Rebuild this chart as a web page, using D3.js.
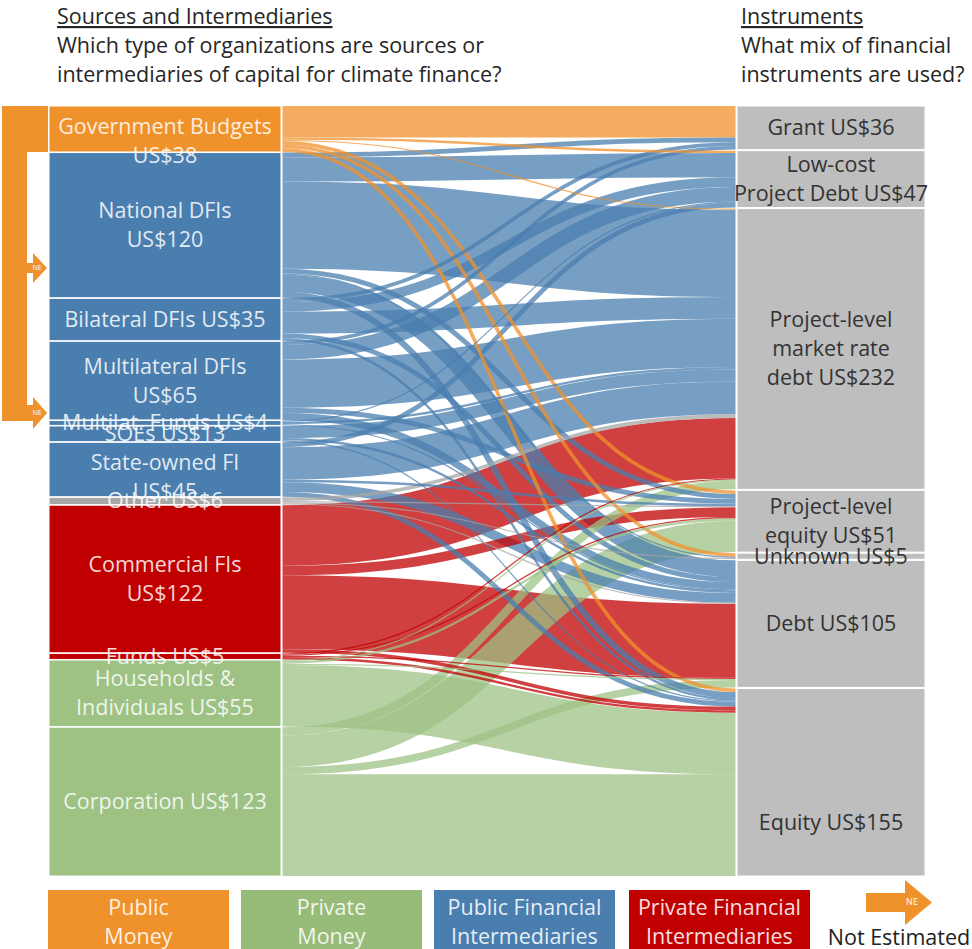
<!DOCTYPE html>
<html><head><meta charset="utf-8">
<script src="https://cdn.jsdelivr.net/npm/d3@7"></script>
<style>
body{margin:0;background:#fff}
svg{display:block}
text{font-family:"Open Sans","Noto Sans",sans-serif}
</style>
</head><body>
<svg id="c" width="972" height="949"></svg>
<script>
// ---------- DATA ----------
const sources = ["Government Budgets","National DFIs","Bilateral DFIs","Multilateral DFIs","Multilat. Funds","SOEs","State-owned FI","Other","Commercial FIs","Funds","Households & Individuals","Corporation"];
const sourceValues = [38,120,35,65,4,13,45,6,122,5,55,123];
const sourceGroups = ["public","pubfi","pubfi","pubfi","pubfi","pubfi","pubfi","other","privfi","privfi","private","private"];
const sourceLabels = [["Government Budgets","US$38"],["National DFIs","US$120"],["Bilateral DFIs US$35"],["Multilateral DFIs","US$65"],["Multilat. Funds US$4"],["SOEs US$13"],["State-owned FI","US$45"],["Other US$6"],["Commercial FIs","US$122"],["Funds US$5"],["Households &","Individuals US$55"],["Corporation US$123"]];
const instruments = ["Grant","Low-cost Project Debt","Project-level market rate debt","Project-level equity","Unknown","Debt","Equity"];
const instrumentValues = [36,47,232,51,5,105,155];
const instrumentLabels = [["Grant US$36"],["Low-cost","Project Debt US$47"],["Project-level","market rate","debt US$232"],["Project-level","equity US$51"],["Unknown US$5"],["Debt US$105"],["Equity US$155"]];
// flows: rows = sources, columns = instruments
const flows = [
  [26, 2, 1, 3, 3, 0, 3],
  [ 4,20,72, 4, 1,14, 5],
  [ 3, 8,18, 0, 0, 4, 2],
  [ 3,12,40, 4, 0, 6, 0],
  [ 0, 1, 2, 0, 0, 1, 0],
  [ 0, 0,10, 0, 0, 2, 1],
  [ 0, 4,27, 2, 0, 8, 4],
  [ 0, 0, 3, 1, 1, 1, 0],
  [ 0, 0,50, 8, 0,61, 3],
  [ 0, 0, 1, 1, 0, 1, 2],
  [ 0, 0, 1, 2, 0, 1,51],
  [ 0, 0, 7,26, 0, 6,84]
];
const legendItems = [["Public","Money"],["Private","Money"],["Public Financial","Intermediaries"],["Private Financial","Intermediaries"]];
const legendGroups = ["public","private","pubfi","privfi"];
const titleLeft = ["Sources and Intermediaries","Which type of organizations are sources or","intermediaries of capital for climate finance?"];
const titleRight = ["Instruments","What mix of financial","instruments are used?"];

// ---------- STYLE ----------
const colors = {public:"#F0922B", private:"#9DC284", pubfi:"#4A7EAF", privfi:"#C00000", other:"#A6A6A6"};
const legendColors = {public:"#F0922B", private:"#97BB78", pubfi:"#4A7EAF", privfi:"#C00000"};
const instColor = "#BEBEBE";
const labelShiftRight = {6: 40};
const FS = 21.5, LH = 29;

const svg = d3.select("#c");
const topY = 106, botY = 876;
const lx0 = 49, lx1 = 281, rx0 = 737, rx1 = 925;
const linkX0 = 282.5, linkX1 = 735.5;
const total = d3.sum(sourceValues);
const gapL = 0.6;
const ky = (botY - topY - (sources.length - 1) * gapL) / total;
const yv = d3.scaleLinear().domain([0, total]).range([0, total * ky]);
const gapR = (botY - topY - yv(d3.sum(instrumentValues))) / (instruments.length - 1);

// node positions
const lNodes = [];
let acc = topY;
sourceValues.forEach((v, i) => { lNodes.push({i, y0: acc, y1: acc + yv(v)}); acc += yv(v) + gapL; });
const rNodes = [];
acc = topY;
instrumentValues.forEach((v, j) => { rNodes.push({j, y0: acc, y1: acc + yv(v)}); acc += yv(v) + gapR; });

// link positions
const links = [];
const sOff = lNodes.map(n => n.y0);
const tOff = rNodes.map(n => n.y0);
flows.forEach((row, i) => row.forEach((v, j) => { if (v > 0) links.push({i, j, v}); }));
links.slice().sort((a, b) => a.i - b.i || a.j - b.j).forEach(l => { l.sy = sOff[l.i] + yv(l.v) / 2; sOff[l.i] += yv(l.v); });
links.slice().sort((a, b) => a.j - b.j || a.i - b.i).forEach(l => { l.ty = tOff[l.j] + yv(l.v) / 2; tOff[l.j] += yv(l.v); });

const linkGen = d3.linkHorizontal().source(d => [linkX0, d.sy]).target(d => [linkX1, d.ty]);
svg.append("g").selectAll("path")
  .data(links.slice().sort((a, b) => b.v - a.v))
  .join("path")
  .attr("d", linkGen)
  .attr("fill", "none")
  .attr("stroke", d => colors[sourceGroups[d.i]])
  .attr("stroke-opacity", 0.75)
  .attr("stroke-width", d => Math.max(0.8, yv(d.v)));

// left nodes
svg.append("g").selectAll("rect").data(lNodes).join("rect")
  .attr("x", lx0).attr("width", lx1 - lx0)
  .attr("y", d => d.y0).attr("height", d => d.y1 - d.y0)
  .attr("fill", d => colors[sourceGroups[d.i]])
  .attr("stroke", "#fff").attr("stroke-width", 1);
// right nodes
svg.append("g").selectAll("rect").data(rNodes).join("rect")
  .attr("x", rx0).attr("width", rx1 - rx0)
  .attr("y", d => d.y0).attr("height", d => d.y1 - d.y0)
  .attr("fill", instColor)
  .attr("stroke", "#fff").attr("stroke-width", 1);

function drawLabel(g, lines, cx, cy, fill, minFirst) {
  let first = cy - (lines.length - 1) * LH / 2;
  if (minFirst !== undefined && first < minFirst) first = minFirst;
  const t = g.append("text").attr("text-anchor", "middle").attr("font-size", FS).attr("fill", fill);
  lines.forEach((ln, k) => t.append("tspan").attr("x", cx).attr("y", first + k * LH).attr("dy", "0.35em").text(ln));
}
const lblG = svg.append("g");
lNodes.forEach(n => {
  const lines = sourceLabels[n.i];
  const h = n.y1 - n.y0;
  const minFirst = (lines.length > 1 && h < lines.length * LH) ? n.y0 + 20 : undefined;
  drawLabel(lblG, lines, (lx0 + lx1) / 2, (n.y0 + n.y1) / 2, "rgba(255,255,255,0.85)", minFirst);
});
rNodes.forEach(n => {
  drawLabel(lblG, instrumentLabels[n.j], (rx0 + rx1) / 2, (n.y0 + n.y1) / 2 + (labelShiftRight[n.j] || 0), "#333");
});

// titles
function title(lines, x) {
  const t = svg.append("text").attr("font-size", FS).attr("fill", "#262626");
  lines.forEach((ln, k) => {
    const s = t.append("tspan").attr("x", x).attr("y", 24 + k * 29).text(ln);
    if (k === 0) s.attr("text-decoration", "underline");
  });
}
title(titleLeft, 57);
title(titleRight, 741);

// NE bracket
const orange = colors.public;
svg.append("path").attr("fill", orange)
  .attr("d", "M2,106 H48 V152 H27 V405 H33 V397 L47,413 L33,429 V421 H2 Z");
svg.append("path").attr("fill", orange)
  .attr("d", "M27,263 H33 V253 L47,268 L33,283 V273 H27 Z");
svg.append("text").attr("x", 37).attr("y", 268).attr("dy", "0.35em").attr("text-anchor", "middle")
  .attr("font-size", 7).attr("fill", "#fff").text("NE");
svg.append("text").attr("x", 37).attr("y", 413).attr("dy", "0.35em").attr("text-anchor", "middle")
  .attr("font-size", 7).attr("fill", "#fff").text("NE");

// legend
const lgXs = [48, 241, 434, 629];
const lgW = 181;
legendItems.forEach((lines, k) => {
  const x = lgXs[k];
  svg.append("rect").attr("x", x).attr("y", 890).attr("width", lgW).attr("height", 60)
    .attr("fill", legendColors[legendGroups[k]]);
  const t = svg.append("text").attr("text-anchor", "middle").attr("font-size", FS)
    .attr("fill", "rgba(255,255,255,0.88)");
  lines.forEach((ln, m) => t.append("tspan").attr("x", x + lgW / 2).attr("y", 907 + m * 29).attr("dy", "0.35em").text(ln));
});
svg.append("path").attr("fill", orange)
  .attr("d", "M866,893 H905 V880 L932,902.5 L905,925 V912 H866 Z");
svg.append("text").attr("x", 912).attr("y", 902).attr("dy", "0.35em").attr("text-anchor", "middle")
  .attr("font-size", 9).attr("fill", "#fff").text("NE");
svg.append("text").attr("x", 899).attr("y", 937).attr("dy", "0.35em").attr("text-anchor", "middle")
  .attr("font-size", FS).attr("fill", "#222").text("Not Estimated");
</script>
</body></html>
